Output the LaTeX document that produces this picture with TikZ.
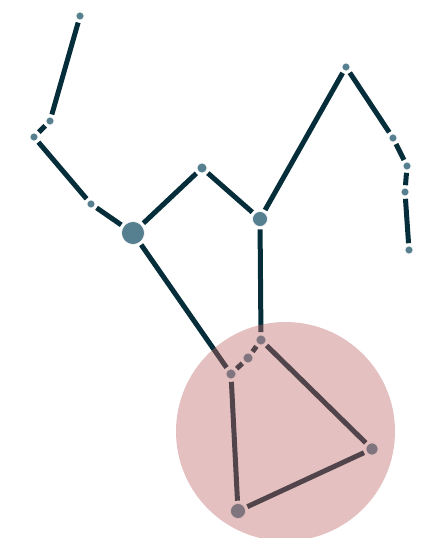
\documentclass[tikz,border=0pt]{standalone}
\begin{document}
\begin{tikzpicture}[x=1pt,y=-1pt,
  edge/.style={draw=linec,line width=5pt,shorten >=2.5pt,shorten <=2.5pt},
  dot/.style={circle,fill=nodec,draw=white,line width=0.6pt,inner sep=0pt,minimum size=#1},
  dot/.default=8pt]
\definecolor{linec}{RGB}{6,46,58}
\definecolor{nodec}{RGB}{86,128,144}
\definecolor{blobc}{RGB}{189,101,101}
\useasboundingbox (0,0) rectangle (424,538);
\node[dot] (A) at (80,16) {};
\node[dot] (B) at (50,121) {};
\node[dot] (C) at (34,137) {};
\node[dot] (D) at (91,204) {};
\node[dot=23pt] (E) at (133,233) {};
\node[dot=10pt] (F) at (202,168) {};
\node[dot=15pt] (G) at (260,219) {};
\node[dot] (H) at (346,67) {};
\node[dot] (I) at (393,138) {};
\node[dot] (J) at (407,166) {};
\node[dot] (K) at (405,192) {};
\node[dot] (L) at (409,250) {};
\node[dot=10pt] (M) at (231,374) {};
\node[dot=10pt] (N) at (248,358) {};
\node[dot=10pt] (O) at (261,340) {};
\node[dot=12pt] (P) at (372,449) {};
\node[dot=15pt] (Q) at (238,511) {};
\begin{scope}[on background layer/.style={}]
\end{scope}
\foreach \a/\b in {A/B,B/C,C/D,D/E,E/F,F/G,G/H,H/I,I/J,J/K,K/L,E/M,M/N,N/O,O/G,O/P,P/Q,Q/M}
  \draw[edge] (\a) -- (\b);
\node[dot] at (A) {};
\node[dot] at (B) {};
\node[dot] at (C) {};
\node[dot] at (D) {};
\node[dot=23pt] at (E) {};
\node[dot=10pt] at (F) {};
\node[dot=15pt] at (G) {};
\node[dot] at (H) {};
\node[dot] at (I) {};
\node[dot] at (J) {};
\node[dot] at (K) {};
\node[dot] at (L) {};
\node[dot=10pt] at (M) {};
\node[dot=10pt] at (N) {};
\node[dot=10pt] at (O) {};
\node[dot=12pt] at (P) {};
\node[dot=15pt] at (Q) {};
\fill[blobc,opacity=0.41] (285.5,431.5) circle[radius=109.5];
\end{tikzpicture}
\end{document}
